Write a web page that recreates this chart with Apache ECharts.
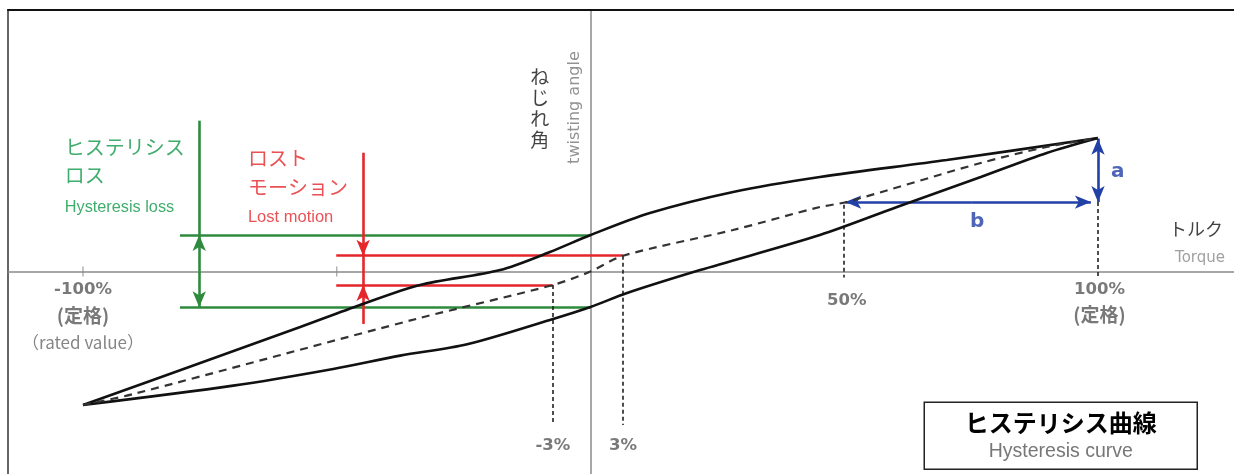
<!DOCTYPE html>
<html>
<head>
<meta charset="utf-8">
<script src="https://cdn.jsdelivr.net/npm/echarts@6/dist/echarts.min.js"></script>
<style>
html,body{margin:0;padding:0;background:#fff;}
#chart{width:1234px;height:474px;}
</style>
</head>
<body>
<div id="chart"></div>
<script>
// ---- data (torque %, twisting angle in relative units; 100 = rated) ----
const upperBranch = [[-100,-100],[-76.9,-68.5],[-57.2,-41.6],[-45.4,-25.1],[-33.6,-10.1],[-17.8,1.1],[-8.0,14.6],[0,27.3],[11.7,43.8],[28.1,59.6],[45.2,70.8],[70.2,83.5],[100,100]];
const lowerBranch = [[-100,-100],[-70.4,-85.5],[-50.7,-73.0],[-37.5,-63.0],[-24.3,-54.5],[-8.0,-36.3],[0,-26.6],[7.2,-16.1],[21.6,1.1],[45.2,27.3],[60.4,48.3],[76.9,70.8],[89.9,88.8],[100,100]];
const meanCurve = [[-100,-100],[-90.1,-91.8],[-33.6,-34.8],[-7.4,-10.1],[0,0],[6.4,11.8],[28.1,31.1],[45.2,48.3],[50.5,52.1],[76.9,81.3],[89.9,93.3],[100,100]];

const hysteresisLevels = [27.3, -26.8];     // green lines (angle at zero torque)
const lostMotionLevels = [11.8, -10.1];     // red lines
const lostMotionTorque = [6.4, -7.4];       // "3%" / "-3%" positions (drawn exaggerated)
const ratedTorque = 100;
const halfTorque = 50;
const halfAngle = 52;                        // angle at 50% on mean curve (b arrow)
const ratedAngle = 100;

const tickLabels = ['-100%', '50%', '100%', '-3%', '3%'];
const ratedLabel = '(定格)';
const ratedLabelEn = '（rated value）';

// ---- chart ----
const chart = echarts.init(document.getElementById('chart'));

const X_MIN = -114.78, X_MAX = 126.80, Y_MIN = -151.7, Y_MAX = 195.9;
const GREEN = '#2e8b3e', GREEN_TXT = '#109848', RED = '#e5262b', BLUE = '#2340a6';
const JP = '"Noto Sans CJK JP", "Noto Sans", sans-serif';
const SANS = '"Liberation Sans", Arial, sans-serif';
const DJ = '"DejaVu Sans", sans-serif';

function seg(a, b, startSym, endSym) {
  return [
    {coord: a, symbol: startSym || 'none'},
    {coord: b, symbol: endSym || 'none'}
  ];
}

function txt(x, y, text, style) {
  return {value: [x, y], label: Object.assign({show: true, formatter: text, position: 'inside', align: 'center', verticalAlign: 'middle'}, style)};
}

const hx = -77.1;   // green arrow torque position
const rx = -44.8;   // red arrow torque position
const greenStart = -80.9, redStart = -50.1;

const tickStyle = {fontFamily: DJ, fontWeight: 'bold', fontSize: 16.5, color: '#585858'};
const ratedStyle = {fontFamily: JP, fontWeight: 'bold', fontSize: 19, color: '#585858'};

const texts = [
  txt(-103.6, 93.3, 'ヒステリシス', {align: 'left', fontFamily: JP, fontSize: 20, color: GREEN_TXT}),
  txt(-103.6, 72.3, 'ロス', {align: 'left', fontFamily: JP, fontSize: 20, color: GREEN_TXT}),
  txt(-103.6, 47.6, 'Hysteresis loss', {align: 'left', fontFamily: SANS, fontSize: 16.3, color: GREEN_TXT}),
  txt(-67.5, 85.0, 'ロスト', {align: 'left', fontFamily: JP, fontSize: 20, color: RED}),
  txt(-67.5, 63.3, 'モーション', {align: 'left', fontFamily: JP, fontSize: 20, color: RED}),
  txt(-67.5, 40.8, 'Lost motion', {align: 'left', fontFamily: SANS, fontSize: 16.5, color: RED}),
  txt(-10.0, 122.5, 'ね\nじ\nれ\n角', {fontFamily: JP, fontSize: 19, lineHeight: 21, color: '#111'}),
  txt(-3.1, 122.8, 'twisting angle', {rotate: 90, fontFamily: DJ, fontSize: 16, color: '#777'}),
  txt(119.3, 31.8, 'トルク', {fontFamily: JP, fontSize: 18, color: '#111'}),
  txt(120.1, 10.1, 'Torque', {fontFamily: DJ, fontSize: 15, color: '#888'}),
  txt(-100, -13.9, tickLabels[0], tickStyle),
  txt(-100, -33.3, ratedLabel, ratedStyle),
  txt(-100, -53.0, ratedLabelEn, {fontFamily: JP, fontSize: 17, color: '#666'}),
  txt(halfTorque + 0.5, -21.7, tickLabels[1], tickStyle),
  txt(ratedTorque + 0.3, -13.5, tickLabels[2], tickStyle),
  txt(ratedTorque + 0.3, -32.6, ratedLabel, ratedStyle),
  txt(lostMotionTorque[1], -130.3, tickLabels[3], tickStyle),
  txt(lostMotionTorque[0], -130.3, tickLabels[4], tickStyle),
  txt(ratedTorque + 3.9, (ratedAngle + halfAngle) / 2 - 1.5, 'a', {fontFamily: DJ, fontWeight: 'bold', fontSize: 20, color: BLUE}),
  txt((halfTorque + ratedTorque) / 2 + 1.2, halfAngle - 15, 'b', {fontFamily: DJ, fontWeight: 'bold', fontSize: 20, color: BLUE})
];

const curveStyle = {color: '#111', width: 2.6};

const option = {
  animation: false,
  backgroundColor: '#fff',
  grid: {left: 8, right: 0, top: 10, bottom: 0, containLabel: false},
  xAxis: [
    {type: 'value', min: X_MIN, max: X_MAX, splitLine: {show: false},
      axisLine: {show: true, onZero: true, onZeroAxisIndex: 0, lineStyle: {color: '#8a8a8a', width: 1.5}},
      axisTick: {show: false}, axisLabel: {show: false}},
    {type: 'value', position: 'top', min: X_MIN, max: X_MAX, splitLine: {show: false},
      axisLine: {show: true, onZero: false, lineStyle: {color: '#111', width: 2}},
      axisTick: {show: false}, axisLabel: {show: false}}
  ],
  yAxis: [
    {type: 'value', min: Y_MIN, max: Y_MAX, splitLine: {show: false},
      axisLine: {show: true, onZero: true, onZeroAxisIndex: 0, lineStyle: {color: '#a8a8a8', width: 2}},
      axisTick: {show: false}, axisLabel: {show: false}},
    {type: 'value', position: 'left', min: Y_MIN, max: Y_MAX, splitLine: {show: false},
      axisLine: {show: true, onZero: false, lineStyle: {color: '#666', width: 2}},
      axisTick: {show: false}, axisLabel: {show: false}}
  ],
  series: [
    {name: 'upper', type: 'line', data: upperBranch, showSymbol: false, smooth: 0.3, lineStyle: curveStyle, z: 5},
    {name: 'lower', type: 'line', data: lowerBranch, showSymbol: false, smooth: 0.3, lineStyle: curveStyle, z: 5},
    {name: 'mean', type: 'line', data: meanCurve, showSymbol: false, smooth: 0.3, lineStyle: {color: '#333', width: 2.2, type: [8, 6]}, z: 5},
    {name: 'ticks', type: 'scatter', data: [[-100, 0], [-50, 0]], symbol: 'rect', symbolSize: [1.2, 10], itemStyle: {color: '#888'}, silent: true, z: 3},
    {name: 'green', type: 'line', data: [], silent: true, z: 4,
      markLine: {silent: true, animation: false, label: {show: false}, symbolSize: [10, 16],
        lineStyle: {color: GREEN, width: 2.6, type: 'solid'},
        data: [
          seg([greenStart, hysteresisLevels[0]], [0, hysteresisLevels[0]]),
          seg([greenStart, hysteresisLevels[1]], [0, hysteresisLevels[1]]),
          seg([hx, 113], [hx, hysteresisLevels[0]]),
          seg([hx, 0.25], [hx, hysteresisLevels[0]], 'none', 'arrow'),
          seg([hx, 0.25], [hx, hysteresisLevels[1]], 'none', 'arrow')
        ]}},
    {name: 'red', type: 'line', data: [], silent: true, z: 4,
      markLine: {silent: true, animation: false, label: {show: false}, symbolSize: [10, 16],
        lineStyle: {color: RED, width: 2.6, type: 'solid'},
        data: [
          seg([redStart, lostMotionLevels[0]], [lostMotionTorque[0], lostMotionLevels[0]]),
          seg([redStart, lostMotionLevels[1]], [lostMotionTorque[1], lostMotionLevels[1]]),
          seg([rx, 89], [rx, lostMotionLevels[0]], 'none', 'arrow'),
          seg([rx, lostMotionLevels[0]], [rx, lostMotionLevels[1]]),
          seg([rx, -39.3], [rx, lostMotionLevels[1]], 'none', 'arrow')
        ]}},
    {name: 'guides', type: 'line', data: [], silent: true, z: 4,
      markLine: {silent: true, animation: false, label: {show: false}, symbol: 'none',
        lineStyle: {color: '#222', width: 1.6, type: [4, 3]},
        data: [
          seg([lostMotionTorque[1], lostMotionLevels[1]], [lostMotionTorque[1], -115]),
          seg([lostMotionTorque[0], lostMotionLevels[0]], [lostMotionTorque[0], -115]),
          seg([halfTorque, 50], [halfTorque, -4.5]),
          seg([ratedTorque, halfAngle], [ratedTorque, -4.5])
        ]}},
    {name: 'blue', type: 'line', data: [], silent: true, z: 6,
      markLine: {silent: true, animation: false, label: {show: false}, symbolSize: [10, 16],
        lineStyle: {color: BLUE, width: 2.6, type: 'solid'},
        data: [
          seg([ratedTorque, (ratedAngle + halfAngle) / 2], [ratedTorque, ratedAngle - 0.5], 'none', 'arrow'),
          seg([ratedTorque, (ratedAngle + halfAngle) / 2], [ratedTorque, halfAngle], 'none', 'arrow'),
          seg([(halfTorque + ratedTorque) / 2, halfAngle], [halfTorque + 0.2, halfAngle], 'none', 'arrow'),
          seg([(halfTorque + ratedTorque) / 2, halfAngle], [ratedTorque - 1.4, halfAngle], 'none', 'arrow')
        ]}},
    {name: 'texts', type: 'scatter', data: texts, symbolSize: 0, silent: true, z: 10}
  ],
  graphic: [
    {type: 'group', right: 36, bottom: 4, children: [
      {type: 'rect', shape: {x: 0, y: 0, width: 273, height: 67}, style: {fill: '#fff', stroke: '#222', lineWidth: 1.5}},
      {type: 'text', x: 136.5, y: 21, style: {text: 'ヒステリシス曲線', fontFamily: JP, fontWeight: 'bold', fontSize: 24, fill: '#000', align: 'center', verticalAlign: 'middle'}},
      {type: 'text', x: 136.5, y: 49, style: {text: 'Hysteresis curve', fontFamily: SANS, fontSize: 19.5, fill: '#777', align: 'center', verticalAlign: 'middle'}}
    ]}
  ]
};
chart.setOption(option);
</script>
</body>
</html>
